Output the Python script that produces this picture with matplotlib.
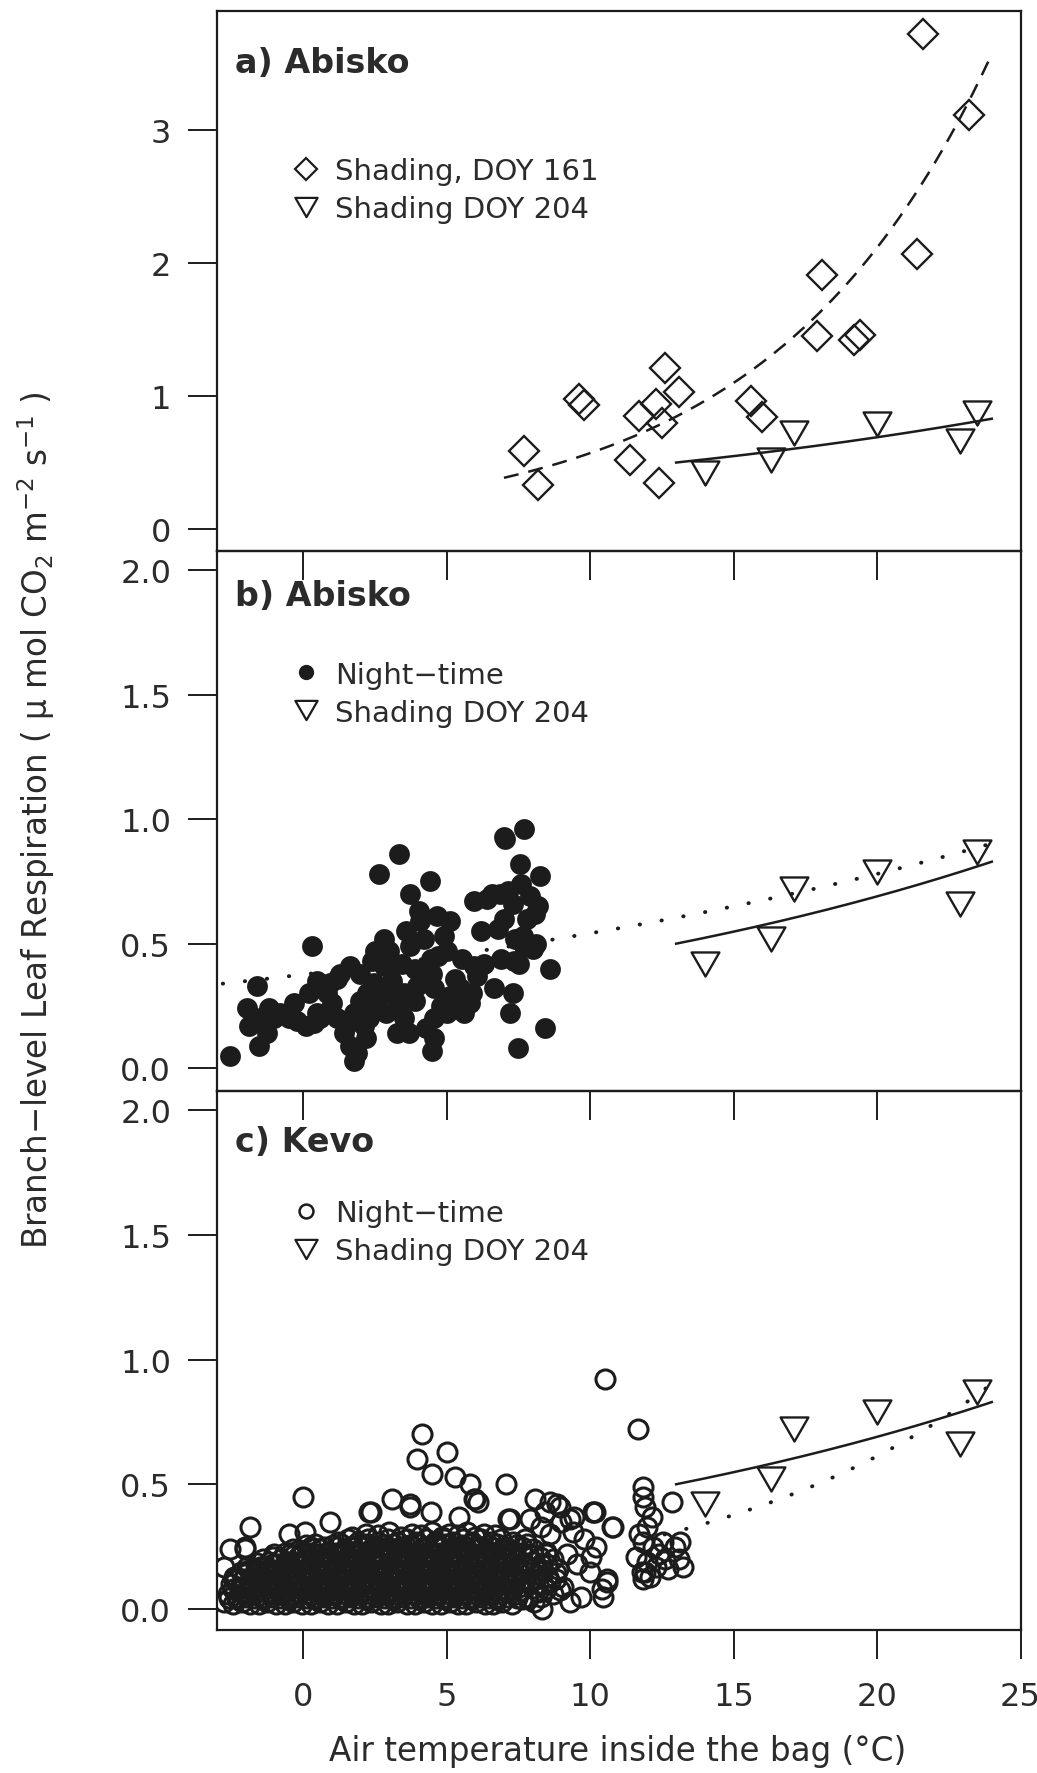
import matplotlib
matplotlib.use("Agg")
import matplotlib.pyplot as plt
import numpy as np
from matplotlib.lines import Line2D
from matplotlib.path import Path

plt.rcParams['font.family'] = ['DejaVu Sans']
plt.rcParams['mathtext.default'] = 'regular'

INK = '#1c1c1c'
TXT = '#2b2b2b'

# ---------------------------------------------------------------- axes values
temp_ticks = [0, 5, 10, 15, 20, 25]
resp_ticks_a = [0, 1, 2, 3]
resp_labels_a = ['0', '1', '2', '3']
resp_ticks_bc = [0.0, 0.5, 1.0, 1.5, 2.0]
resp_labels_bc = ['0.0', '0.5', '1.0', '1.5', '2.0']

# ---------------------------------------------------------------- shading runs
doy161_temp = [21.6, 23.2, 21.4, 18.1, 17.9, 19.2, 19.4, 12.6, 13.1, 9.6,
               9.8, 11.7, 12.3, 12.5, 15.6, 16.0, 7.7, 11.4, 8.2, 12.4]
doy161_resp = [3.72, 3.11, 2.07, 1.91, 1.45, 1.42, 1.46, 1.21, 1.03, 0.98,
               0.93, 0.85, 0.94, 0.80, 0.96, 0.84, 0.59, 0.52, 0.33, 0.35]

doy204_temp = [14.0, 16.3, 17.1, 20.0, 22.9, 23.5]
doy204_resp = [0.42, 0.52, 0.72, 0.79, 0.66, 0.87]

# exponential fits R = R0 * exp(k * T): [R0, k] and the temperature span drawn
doy161_fit = [0.154, 0.131]
doy161_span = [7.0, 24.0]
doy204_fit = [0.275, 0.046]
doy204_span = [13.0, 24.0]
abisko_night_fit = [0.376, 0.0365]
abisko_night_span = [-2.8, 24.0]
kevo_night_fit = [0.088, 0.097]
kevo_night_span = [12.6, 24.0]

# ---------------------------------------------------------------- Abisko night-time
abisko_night = [
    (3.33, 0.86), (2.64, 0.78), (4.41, 0.75), (6.99, 0.93), (3.72, 0.70),
    (5.95, 0.67), (6.87, 0.70), (4.03, 0.63), (4.09, 0.59), (4.67, 0.61),
    (5.13, 0.59), (4.90, 0.53), (0.31, 0.49), (2.81, 0.52), (2.52, 0.47),
    (3.74, 0.49), (3.04, 0.42), (3.45, 0.42), (4.44, 0.44), (4.49, 0.38),
    (5.54, 0.44), (5.95, 0.41), (6.06, 0.37), (1.65, 0.41), (1.30, 0.38),
    (2.00, 0.38), (0.95, 0.34), (0.84, 0.30), (2.46, 0.34), (2.23, 0.30),
    (3.04, 0.30), (3.51, 0.30), (3.97, 0.33), (4.55, 0.32), (5.13, 0.29),
    (5.48, 0.32), (6.64, 0.32), (-1.60, 0.33), (-1.95, 0.24), (-1.89, 0.17),
    (-1.49, 0.20), (-1.02, 0.20), (-0.50, 0.20), (-1.25, 0.14), (-1.54, 0.09),
    (-2.53, 0.05), (0.37, 0.18), (0.84, 0.22), (1.18, 0.20), (1.77, 0.22),
    (2.11, 0.17), (1.42, 0.14), (1.65, 0.09), (1.77, 0.03), (1.88, 0.06),
    (2.58, 0.25), (3.28, 0.14), (3.68, 0.14), (4.55, 0.20), (4.55, 0.12),
    (4.49, 0.07), (5.02, 0.22), (5.60, 0.22), (5.37, 0.30), (7.22, 0.22),
    (7.34, 0.43), (7.40, 0.52), (1.18, 0.36), (0.49, 0.22), (2.81, 0.41),
    (7.71, 0.96), (7.05, 0.92), (7.56, 0.82), (8.24, 0.77), (7.14, 0.71),
    (7.90, 0.69), (6.60, 0.70), (8.09, 0.62), (8.19, 0.65), (7.67, 0.53),
    (7.71, 0.49), (8.00, 0.48), (7.52, 0.42), (8.62, 0.40), (8.43, 0.16),
    (7.48, 0.08), (-0.80, 0.22), (-0.20, 0.19), (0.10, 0.17), (0.60, 0.20),
    (1.00, 0.26), (0.70, 0.32), (2.30, 0.20), (2.90, 0.22), (3.30, 0.25),
    (3.90, 0.40), (4.20, 0.52), (5.30, 0.36), (5.00, 0.47), (6.20, 0.55),
    (6.40, 0.68), (7.00, 0.60), (7.30, 0.66), (2.40, 0.43), (3.10, 0.35),
    (4.80, 0.25), (5.80, 0.26), (6.90, 0.44), (7.80, 0.60), (4.30, 0.16),
    (2.20, 0.12), (0.20, 0.30), (0.50, 0.35), (1.50, 0.17), (2.60, 0.30),
    (2.00, 0.27), (3.50, 0.20), (3.90, 0.27), (4.10, 0.36), (4.70, 0.45),
    (5.50, 0.25), (5.90, 0.30), (6.30, 0.42), (3.00, 0.47), (3.60, 0.55),
    (-0.30, 0.26), (-1.20, 0.24), (6.80, 0.56), (7.60, 0.74), (7.30, 0.30),
    (8.10, 0.50),
]

# ---------------------------------------------------------------- Kevo night-time
kevo_night = [
    # higher readings
    (10.52, 0.92), (11.68, 0.72), (4.15, 0.70), (5.02, 0.63), (3.97, 0.60),
    (4.49, 0.54), (5.31, 0.53), (5.83, 0.50), (5.95, 0.44), (0.00, 0.45),
    (3.10, 0.44), (7.07, 0.50), (6.11, 0.43), (8.08, 0.44), (8.61, 0.43),
    (8.95, 0.41), (8.43, 0.39), (10.12, 0.39), (10.81, 0.33), (7.21, 0.36),
    (9.30, 0.36), (3.74, 0.41), (2.35, 0.39), (0.95, 0.35), (-1.84, 0.33),
    (-2.04, 0.25), (-0.48, 0.30), (0.08, 0.31), (-2.53, 0.24), (-2.01, 0.24),
    (-2.76, 0.17), (-2.41, 0.13), (-1.49, 0.17), (3.71, 0.42), (4.47, 0.39),
    (5.42, 0.37), (5.99, 0.44), (7.14, 0.36), (8.85, 0.42), (9.43, 0.37),
    (10.18, 0.39), (10.76, 0.33), (2.28, 0.39),
    # cluster near 12 degrees
    (11.86, 0.49), (11.86, 0.45), (12.85, 0.43), (12.15, 0.37), (11.90, 0.41),
    (12.00, 0.33), (11.70, 0.30), (11.85, 0.27), (12.20, 0.25), (12.40, 0.22),
    (11.60, 0.21), (12.00, 0.19), (12.30, 0.17), (11.80, 0.15), (12.10, 0.13),
    (11.86, 0.12), (12.55, 0.27), (12.60, 0.20), (12.95, 0.25), (13.14, 0.27),
    (13.10, 0.20), (13.23, 0.17), (12.70, 0.16), (11.90, 0.15),
    # warm tail
    (7.90, 0.36), (8.30, 0.33), (8.60, 0.30), (9.00, 0.35), (9.40, 0.31),
    (9.80, 0.28), (10.10, 0.39), (10.20, 0.25), (10.00, 0.15), (10.40, 0.08),
    (10.60, 0.12), (9.70, 0.05), (9.20, 0.22), (8.80, 0.12), (10.46, 0.05),
    (10.58, 0.11), (9.30, 0.03), (8.33, 0.00), (9.55, 0.18), (10.05, 0.21),
    # dense bulk, coolest to warmest in rough layers
    (-2.75, 0.03), (-2.45, 0.02), (-2.12, 0.03), (-1.86, 0.02), (-1.52, 0.02),
    (-1.25, 0.03), (-0.93, 0.02), (-0.62, 0.02), (-0.35, 0.03), (-0.04, 0.02),
    (0.27, 0.02), (0.58, 0.03), (0.86, 0.02), (1.17, 0.02), (1.49, 0.03),
    (1.78, 0.02), (2.06, 0.02), (2.38, 0.03), (2.71, 0.02), (2.97, 0.02),
    (3.28, 0.03), (3.62, 0.02), (3.90, 0.02), (4.21, 0.03), (4.48, 0.02),
    (4.79, 0.02), (5.12, 0.03), (5.41, 0.02), (5.69, 0.02), (6.02, 0.03),
    (6.33, 0.02), (6.61, 0.02), (6.94, 0.03), (7.28, 0.02), (7.62, 0.04),
    (8.05, 0.03),
    (-2.58, 0.045), (-2.29, 0.04), (-1.99, 0.05), (-1.68, 0.045), (-1.39, 0.04),
    (-1.09, 0.05), (-0.77, 0.045), (-0.48, 0.04), (-0.20, 0.05), (0.12, 0.045),
    (0.41, 0.04), (0.72, 0.05), (1.01, 0.045), (1.33, 0.04), (1.63, 0.05),
    (1.92, 0.045), (2.24, 0.04), (2.55, 0.05), (2.84, 0.045), (3.12, 0.04),
    (3.44, 0.05), (3.77, 0.045), (4.06, 0.04), (4.35, 0.05), (4.63, 0.045),
    (4.95, 0.04), (5.27, 0.05), (5.55, 0.045), (5.84, 0.04), (6.18, 0.05),
    (6.47, 0.045), (6.77, 0.04), (7.10, 0.05), (7.44, 0.045), (7.83, 0.04),
    (8.30, 0.05),
    (-2.60, 0.06), (-2.28, 0.05), (-1.97, 0.07), (-1.70, 0.06), (-1.38, 0.05),
    (-1.07, 0.07), (-0.78, 0.06), (-0.49, 0.05), (-0.18, 0.07), (0.12, 0.06),
    (0.43, 0.05), (0.72, 0.07), (1.02, 0.06), (1.33, 0.05), (1.62, 0.07),
    (1.93, 0.06), (2.22, 0.05), (2.53, 0.07), (2.84, 0.06), (3.13, 0.05),
    (3.45, 0.07), (3.76, 0.06), (4.05, 0.05), (4.36, 0.07), (4.64, 0.06),
    (4.95, 0.05), (5.26, 0.07), (5.55, 0.06), (5.86, 0.05), (6.17, 0.07),
    (6.47, 0.06), (6.78, 0.05), (7.10, 0.07), (7.45, 0.06), (7.80, 0.05),
    (8.20, 0.07), (8.70, 0.06),
    (-2.45, 0.08), (-2.13, 0.085), (-1.82, 0.08), (-1.54, 0.075), (-1.22, 0.085),
    (-0.92, 0.08), (-0.63, 0.075), (-0.34, 0.085), (-0.03, 0.08), (0.27, 0.075),
    (0.58, 0.085), (0.87, 0.08), (1.17, 0.075), (1.48, 0.085), (1.77, 0.08),
    (2.08, 0.075), (2.37, 0.085), (2.69, 0.08), (2.98, 0.075), (3.29, 0.085),
    (3.60, 0.08), (3.91, 0.075), (4.20, 0.085), (4.50, 0.08), (4.80, 0.075),
    (5.11, 0.085), (5.40, 0.08), (5.71, 0.075), (6.01, 0.085), (6.32, 0.08),
    (6.62, 0.075), (6.94, 0.085), (7.28, 0.08), (7.63, 0.075), (8.00, 0.085),
    (8.45, 0.08), (8.95, 0.075),
    (-2.50, 0.10), (-2.20, 0.09), (-1.88, 0.10), (-1.58, 0.09), (-1.29, 0.11),
    (-0.98, 0.10), (-0.69, 0.09), (-0.40, 0.11), (-0.10, 0.10), (0.21, 0.09),
    (0.50, 0.11), (0.81, 0.10), (1.10, 0.09), (1.41, 0.11), (1.70, 0.10),
    (2.01, 0.09), (2.30, 0.11), (2.61, 0.10), (2.90, 0.09), (3.21, 0.11),
    (3.52, 0.10), (3.83, 0.09), (4.12, 0.11), (4.43, 0.10), (4.72, 0.09),
    (5.03, 0.11), (5.33, 0.10), (5.63, 0.09), (5.94, 0.11), (6.25, 0.10),
    (6.56, 0.09), (6.86, 0.11), (7.18, 0.10), (7.52, 0.09), (7.90, 0.11),
    (8.35, 0.10), (9.05, 0.09),
    (-2.42, 0.115), (-2.05, 0.12), (-1.73, 0.11), (-1.44, 0.115), (-1.13, 0.12),
    (-0.84, 0.11), (-0.55, 0.115), (-0.25, 0.12), (0.05, 0.11), (0.36, 0.115),
    (0.66, 0.12), (0.95, 0.11), (1.26, 0.115), (1.55, 0.12), (1.86, 0.11),
    (2.16, 0.115), (2.45, 0.12), (2.76, 0.11), (3.05, 0.115), (3.37, 0.12),
    (3.67, 0.11), (3.98, 0.115), (4.28, 0.12), (4.57, 0.11), (4.87, 0.115),
    (5.18, 0.12), (5.48, 0.11), (5.78, 0.115), (6.10, 0.12), (6.40, 0.11),
    (6.71, 0.115), (7.02, 0.12), (7.35, 0.11), (7.72, 0.115), (8.12, 0.12),
    (8.60, 0.11),
    (-2.35, 0.13), (-2.02, 0.14), (-1.73, 0.13), (-1.42, 0.12), (-1.12, 0.14),
    (-0.83, 0.13), (-0.53, 0.12), (-0.24, 0.14), (0.06, 0.13), (0.36, 0.12),
    (0.66, 0.14), (0.95, 0.13), (1.26, 0.12), (1.56, 0.14), (1.85, 0.13),
    (2.15, 0.12), (2.46, 0.14), (2.76, 0.13), (3.06, 0.12), (3.37, 0.14),
    (3.68, 0.13), (3.97, 0.12), (4.28, 0.14), (4.58, 0.13), (4.88, 0.12),
    (5.18, 0.14), (5.48, 0.13), (5.79, 0.12), (6.10, 0.14), (6.40, 0.13),
    (6.71, 0.12), (7.02, 0.14), (7.35, 0.13), (7.70, 0.12), (8.10, 0.14),
    (8.55, 0.13),
    (-2.18, 0.15), (-1.87, 0.155), (-1.57, 0.145), (-1.27, 0.15), (-0.97, 0.155),
    (-0.68, 0.145), (-0.38, 0.15), (-0.09, 0.155), (0.21, 0.145), (0.51, 0.15),
    (0.80, 0.155), (1.11, 0.145), (1.41, 0.15), (1.70, 0.155), (2.00, 0.145),
    (2.31, 0.15), (2.61, 0.155), (2.91, 0.145), (3.22, 0.15), (3.52, 0.155),
    (3.82, 0.145), (4.13, 0.15), (4.43, 0.155), (4.73, 0.145), (5.03, 0.15),
    (5.33, 0.155), (5.64, 0.145), (5.95, 0.15), (6.25, 0.155), (6.56, 0.145),
    (6.87, 0.15), (7.20, 0.155), (7.55, 0.145), (7.92, 0.15), (8.35, 0.155),
    (8.80, 0.145),
    (-1.95, 0.17), (-1.65, 0.16), (-1.34, 0.17), (-1.04, 0.18), (-0.75, 0.16),
    (-0.45, 0.17), (-0.16, 0.18), (0.14, 0.16), (0.44, 0.17), (0.73, 0.18),
    (1.04, 0.16), (1.34, 0.17), (1.63, 0.18), (1.94, 0.16), (2.23, 0.17),
    (2.54, 0.18), (2.83, 0.16), (3.14, 0.17), (3.44, 0.18), (3.75, 0.16),
    (4.05, 0.17), (4.35, 0.18), (4.66, 0.16), (4.96, 0.17), (5.26, 0.18),
    (5.57, 0.16), (5.87, 0.17), (6.18, 0.18), (6.48, 0.16), (6.80, 0.17),
    (7.12, 0.18), (7.48, 0.16), (7.85, 0.17), (8.30, 0.18), (8.90, 0.16),
    (-1.60, 0.185), (-1.20, 0.19), (-0.90, 0.18), (-0.61, 0.185), (-0.32, 0.19),
    (-0.02, 0.18), (0.28, 0.185), (0.57, 0.19), (0.88, 0.18), (1.19, 0.185),
    (1.48, 0.19), (1.78, 0.18), (2.08, 0.185), (2.38, 0.19), (2.68, 0.18),
    (2.98, 0.185), (3.29, 0.19), (3.59, 0.18), (3.89, 0.185), (4.20, 0.19),
    (4.50, 0.18), (4.80, 0.185), (5.11, 0.19), (5.41, 0.18), (5.72, 0.185),
    (6.02, 0.19), (6.33, 0.18), (6.64, 0.185), (6.95, 0.19), (7.30, 0.18),
    (7.66, 0.185), (8.06, 0.19), (8.50, 0.18),
    (-1.38, 0.20), (-1.06, 0.21), (-0.77, 0.20), (-0.47, 0.22), (-0.19, 0.21),
    (0.11, 0.20), (0.42, 0.22), (0.69, 0.21), (0.98, 0.20), (1.31, 0.22),
    (1.58, 0.21), (1.90, 0.20), (2.19, 0.22), (2.52, 0.21), (2.79, 0.20),
    (3.11, 0.22), (3.40, 0.21), (3.72, 0.20), (3.99, 0.22), (4.31, 0.21),
    (4.60, 0.20), (4.91, 0.22), (5.20, 0.21), (5.52, 0.20), (5.81, 0.22),
    (6.12, 0.21), (6.41, 0.20), (6.73, 0.22), (7.06, 0.21), (7.42, 0.20),
    (7.83, 0.22), (8.24, 0.21), (8.72, 0.20),
    (-1.00, 0.22), (-0.62, 0.225), (-0.33, 0.215), (-0.04, 0.22), (0.26, 0.225),
    (0.56, 0.215), (0.84, 0.22), (1.14, 0.225), (1.44, 0.215), (1.74, 0.22),
    (2.05, 0.225), (2.35, 0.215), (2.65, 0.22), (2.95, 0.225), (3.25, 0.215),
    (3.56, 0.22), (3.86, 0.225), (4.15, 0.215), (4.45, 0.22), (4.76, 0.225),
    (5.06, 0.215), (5.36, 0.22), (5.66, 0.225), (5.97, 0.215), (6.27, 0.22),
    (6.57, 0.225), (6.90, 0.215), (7.24, 0.22), (7.62, 0.225), (8.02, 0.215),
    (8.47, 0.22),
    (-0.35, 0.24), (-0.05, 0.23), (0.28, 0.25), (0.58, 0.24), (0.88, 0.23),
    (1.18, 0.25), (1.47, 0.24), (1.78, 0.23), (2.07, 0.25), (2.38, 0.24),
    (2.67, 0.23), (2.97, 0.25), (3.27, 0.24), (3.58, 0.23), (3.88, 0.25),
    (4.18, 0.24), (4.47, 0.23), (4.78, 0.25), (5.07, 0.24), (5.38, 0.23),
    (5.68, 0.25), (5.98, 0.24), (6.30, 0.23), (6.60, 0.25), (6.92, 0.24),
    (7.25, 0.23), (7.62, 0.25), (8.00, 0.24), (8.45, 0.23),
    (0.10, 0.255), (0.43, 0.26), (0.73, 0.25), (1.03, 0.255), (1.33, 0.26),
    (1.62, 0.25), (1.93, 0.255), (2.22, 0.26), (2.52, 0.25), (2.82, 0.255),
    (3.12, 0.26), (3.43, 0.25), (3.73, 0.255), (4.03, 0.26), (4.33, 0.25),
    (4.63, 0.255), (4.93, 0.26), (5.23, 0.25), (5.53, 0.255), (5.83, 0.26),
    (6.14, 0.25), (6.45, 0.255), (6.76, 0.26), (7.08, 0.25), (7.43, 0.255),
    (7.80, 0.26),
    (1.20, 0.27), (1.55, 0.28), (1.90, 0.27), (2.25, 0.28), (2.60, 0.27),
    (2.95, 0.28), (3.30, 0.27), (3.62, 0.28), (3.95, 0.27), (4.27, 0.28),
    (4.60, 0.27), (4.92, 0.28), (5.24, 0.27), (5.56, 0.28), (5.88, 0.27),
    (6.20, 0.28), (6.55, 0.27), (6.90, 0.28), (7.30, 0.27), (7.75, 0.28),
    (1.70, 0.29), (2.60, 0.295), (3.40, 0.29), (4.10, 0.295), (4.85, 0.29),
    (5.40, 0.295), (6.00, 0.29), (6.70, 0.295),
    (2.20, 0.30), (3.00, 0.31), (3.80, 0.30), (4.50, 0.31), (5.10, 0.30),
    (5.70, 0.31), (6.30, 0.30),
]

# ---------------------------------------------------------------- figure
W, H = 1037, 1774
fig = plt.figure(figsize=(W / 100, H / 100), dpi=100)
fig.patch.set_facecolor('white')


def px_axes(left, top, right, bottom):
    return fig.add_axes([left / W, 1 - bottom / H, (right - left) / W, (bottom - top) / H])


ax_a = px_axes(217, 12, 1020.5, 552)
ax_b = px_axes(217, 552, 1020.5, 1092)
ax_c = px_axes(217, 1092, 1020.5, 1631)

# downward-pointing equilateral triangle
tri_down = Path([(-1, 0.866), (1, 0.866), (0, -0.866), (-1, 0.866)],
                [Path.MOVETO, Path.LINETO, Path.LINETO, Path.CLOSEPOLY])


def style(ax, ylim, yticks, ylabels, show_x):
    ax.patch.set_visible(False)
    ax.set_xlim(-3, 25)
    ax.set_ylim(*ylim)
    ax.set_xticks(temp_ticks)
    ax.set_xticklabels([str(t) for t in temp_ticks])
    ax.set_yticks(yticks)
    ax.set_yticklabels(ylabels)
    ax.tick_params(axis='both', direction='out', length=21, width=1.4,
                   color=INK, labelsize=23, labelcolor=TXT)
    ax.tick_params(axis='x', pad=16, labelbottom=show_x)
    ax.tick_params(axis='y', pad=12)
    for s in ax.spines.values():
        s.set_linewidth(1.6)
        s.set_color(INK)


def fit_curve(ax, fit, span, **kw):
    style_kw = dict(color=INK, lw=1.8)
    style_kw.update(kw)
    t = np.linspace(span[0], span[1], 200)
    ax.plot(t, fit[0] * np.exp(fit[1] * t), **style_kw)


def shading204(ax):
    ax.plot(doy204_temp, doy204_resp, ls='none', marker=tri_down, ms=20,
            mfc='none', mec=INK, mew=1.7)
    fit_curve(ax, doy204_fit, doy204_span, ls='-')


dotted = dict(lw=2.8, dashes=(0.1, 5.6), dash_capstyle='round')

# a) Abisko, shading runs
style(ax_a, (-0.165, 3.895), resp_ticks_a, resp_labels_a, False)
ax_a.plot(doy161_temp, doy161_resp, ls='none', marker='D', ms=14.8,
          mfc='none', mec=INK, mew=1.7)
fit_curve(ax_a, doy161_fit, doy161_span, dashes=(6.0, 4.0))
shading204(ax_a)

# b) Abisko, night-time
style(ax_b, (-0.092, 2.078), resp_ticks_bc, resp_labels_bc, False)
bt, br = zip(*abisko_night)
ax_b.plot(bt, br, ls='none', marker='o', ms=15, mfc=INK, mec=INK, mew=0)
fit_curve(ax_b, abisko_night_fit, abisko_night_span, **dotted)
shading204(ax_b)

# c) Kevo, night-time
style(ax_c, (-0.084, 2.076), resp_ticks_bc, resp_labels_bc, True)
kt, kr = zip(*kevo_night)
ax_c.plot(kt, kr, ls='none', marker='o', ms=13.7, mfc='none', mec=INK, mew=2.2)
fit_curve(ax_c, kevo_night_fit, kevo_night_span, **dotted)
shading204(ax_c)

# panel titles
for ax, label, yf in [(ax_a, 'a) Abisko', 0.904), (ax_b, 'b) Abisko', 0.917),
                      (ax_c, 'c) Kevo', 0.907)]:
    ax.text(0.022, yf, label, transform=ax.transAxes, ha='left', va='center',
            fontsize=24, fontweight='bold', color=TXT)

# legends
diamond_key = Line2D([], [], ls='none', marker='D', ms=11, mfc='none', mec=INK, mew=1.6)
tri_key = Line2D([], [], ls='none', marker=tri_down, ms=16, mfc='none', mec=INK, mew=1.6)
dot_key = Line2D([], [], ls='none', marker='o', ms=11, mfc=INK, mec=INK, mew=0)
ring_key = Line2D([], [], ls='none', marker='o', ms=10, mfc='none', mec=INK, mew=1.8)

legend_kw = dict(loc='upper left', frameon=False, borderpad=0, borderaxespad=0,
                 handlelength=1.0, handletextpad=0.5, labelspacing=0.34,
                 fontsize=21, labelcolor=TXT)
ax_a.legend([diamond_key, tri_key], ['Shading, DOY 161', 'Shading DOY 204'],
            bbox_to_anchor=(0.092, 0.729), **legend_kw)
ax_b.legend([dot_key, tri_key], ['Night\u2212time', 'Shading DOY 204'],
            bbox_to_anchor=(0.092, 0.797), **legend_kw)
ax_c.legend([ring_key, tri_key], ['Night\u2212time', 'Shading DOY 204'],
            bbox_to_anchor=(0.092, 0.799), **legend_kw)

# shared axis titles
fig.text(57 / W, 1 - 820 / H,
         'Branch\u2212level Leaf Respiration ( \u03bc mol CO$_2$ m$^{-2}$ s$^{-1}$ )',
         rotation=90, ha='right', va='center', fontsize=23.5, color=TXT)
fig.text(618 / W, 1 - 1752 / H, 'Air temperature inside the bag (\u00b0C)',
         ha='center', va='center', fontsize=23.5, color=TXT)

fig.savefig('out.png', dpi=100, facecolor='white')
